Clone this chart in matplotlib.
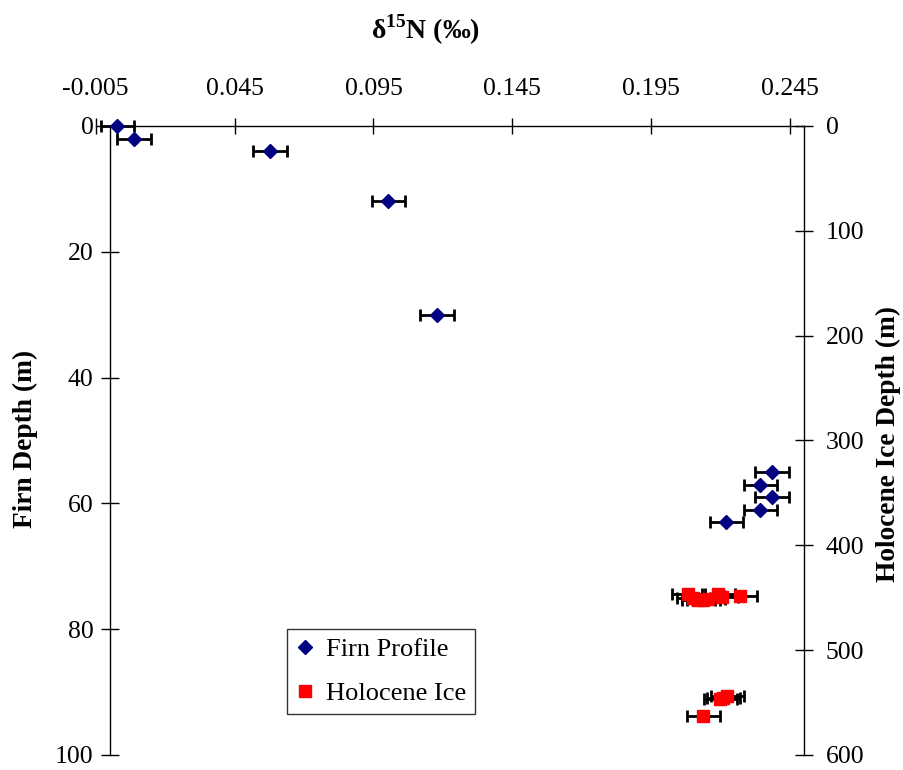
import numpy as np
import matplotlib
matplotlib.use('Agg')
import matplotlib.pyplot as plt
from matplotlib.ticker import FormatStrFormatter

plt.rcParams['font.family'] = ['Liberation Serif', 'DejaVu Serif']
plt.rcParams['mathtext.fontset'] = 'custom'
plt.rcParams['mathtext.rm'] = 'Liberation Serif'
plt.rcParams['mathtext.bf'] = 'Liberation Serif:bold'
plt.rcParams['axes.unicode_minus'] = False

# 粒雪剖面 (firn profile), depth on left axis
firn_d15n = [0.0028, 0.0088, 0.0577, 0.1003, 0.1179, 0.2385, 0.2343, 0.2385, 0.2343, 0.2220]
firn_depth = [0, 2, 4, 12, 30, 55, 57, 59, 61, 63]
firn_err = [0.006] * len(firn_d15n)

# 全新世冰 (Holocene ice), depth on right axis
ice_d15n = [0.2084, 0.2102, 0.2120, 0.2138, 0.2156, 0.2192, 0.2203, 0.2271,
            0.2199, 0.2210, 0.2224, 0.2138]
ice_depth = [446, 450, 452, 452, 451, 446, 449, 448,
             547, 546, 544, 563]
ice_err = [0.006] * len(ice_d15n)

x_ticks = np.arange(-0.005, 0.25, 0.05)
left_ticks = [0, 20, 40, 60, 80, 100]
right_ticks = [0, 100, 200, 300, 400, 500, 600]

fig = plt.figure(figsize=(9.04, 7.70), dpi=100)
ax = fig.add_axes([0.1059, 0.0195, 0.7835, 0.8169])
ax2 = ax.twinx()

# 误差棒
ax.errorbar(firn_d15n, firn_depth, xerr=firn_err, fmt='none', ecolor='black',
            elinewidth=2, capsize=4.5, capthick=2, zorder=2, clip_on=False)
ax2.errorbar(ice_d15n, ice_depth, xerr=ice_err, fmt='none', ecolor='black',
             elinewidth=2, capsize=4.5, capthick=2, zorder=2, clip_on=False)

# 数据点
l1, = ax.plot(firn_d15n, firn_depth, 'D', color='#000080', markersize=7,
              linestyle='none', zorder=3, label='Firn Profile', clip_on=False)
l2, = ax2.plot(ice_d15n, ice_depth, 's', color='#FF0000', markersize=8.5,
               linestyle='none', zorder=3, label='Holocene Ice', clip_on=False)

ax.set_xlim(-0.005, 0.25)
ax.set_ylim(100, 0)
ax2.set_ylim(600, 0)

ax.xaxis.tick_top()
ax.set_xticks(x_ticks)
ax.xaxis.set_major_formatter(FormatStrFormatter('%.3f'))
ax.set_yticks(left_ticks)
ax2.set_yticks(right_ticks)

ax.spines['left'].set_position(('data', 0))
ax.spines['bottom'].set_visible(False)
ax.spines['right'].set_visible(False)
for s in ['left', 'top', 'bottom']:
    ax2.spines[s].set_visible(False)
for s in ['left', 'top']:
    ax.spines[s].set_linewidth(1)
ax2.spines['right'].set_linewidth(1)

ax.tick_params(axis='x', direction='inout', length=12, width=1, labelsize=18.5, pad=13)
ax.tick_params(axis='y', direction='inout', length=13, width=1, labelsize=18.5, pad=5)
ax2.tick_params(axis='y', direction='inout', length=13, width=1, labelsize=18.5, pad=9)

ax.set_ylabel('Firn Depth (m)', fontsize=19.7, fontweight='bold')
ax.yaxis.set_label_coords(-0.0815, 0.503)
ax2.set_ylabel('Holocene Ice Depth (m)', fontsize=19.7, fontweight='bold')
ax2.yaxis.set_label_coords(1.1017, 0.495)

fig.text(426 / 904, 1 - 30 / 770, r'δ$^{\mathbf{15}}$N (‰)', fontsize=20,
         fontweight='bold', ha='center', va='center')

leg = fig.legend([l1, l2], ['Firn Profile', 'Holocene Ice'], loc='upper left',
                 bbox_to_anchor=(287 / 904, 1 - 629 / 770), borderaxespad=0,
                 fontsize=19, frameon=True, fancybox=False, edgecolor='black',
                 handlelength=0.7, handletextpad=0.45, labelspacing=0.78,
                 borderpad=0.33)
leg.get_frame().set_linewidth(1)

fig.savefig('out.png', dpi=100)
